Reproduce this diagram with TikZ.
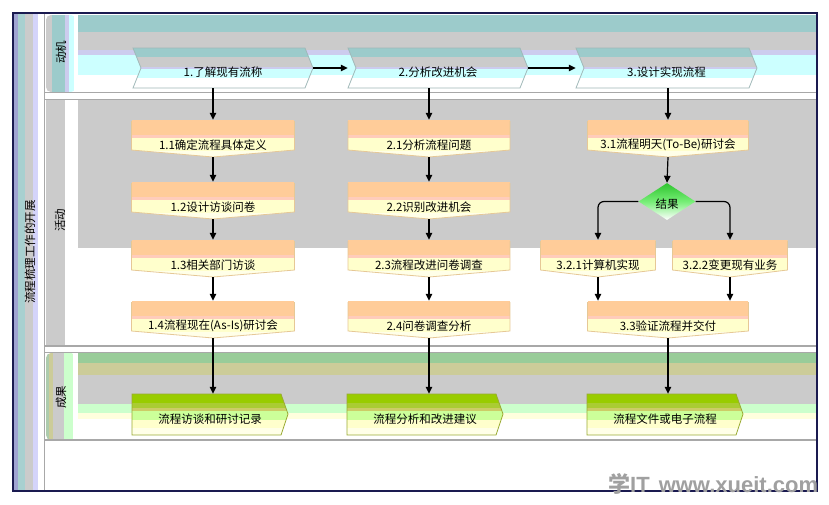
\documentclass[tikz,border=0pt]{standalone}
\usepackage{fontspec}
\setmainfont{Noto Sans CJK SC}
\newfontfamily\wmfont{Liberation Sans}
\usetikzlibrary{arrows.meta,shapes.geometric}
\definecolor{navyc}{HTML}{1A1A50}
\definecolor{laneln}{HTML}{A8A8A8}
\definecolor{tealc}{HTML}{9CCBCB}
\definecolor{grayc}{HTML}{CBCBCB}
\definecolor{lavc}{HTML}{CCCCEE}
\definecolor{cyanc}{HTML}{CCFFFF}
\definecolor{oc1}{HTML}{A0A4D2}
\definecolor{oc2}{HTML}{A8D0D0}
\definecolor{oc4}{HTML}{D4D4FA}
\definecolor{orc}{HTML}{FFCC99}
\definecolor{pkc}{HTML}{FFCCBB}
\definecolor{ylc}{HTML}{FFFFCC}
\definecolor{ylc2}{HTML}{FFFFE8}
\definecolor{tanc}{HTML}{E6C896}
\definecolor{grn1}{HTML}{99CC99}
\definecolor{khk}{HTML}{CCCC99}
\definecolor{lgrn}{HTML}{CCFFCC}
\definecolor{lyel}{HTML}{FFFFDD}
\definecolor{g1}{HTML}{99CC00}
\definecolor{g2}{HTML}{AACC33}
\definecolor{g3}{HTML}{CCCC66}
\definecolor{g4}{HTML}{CCFF99}
\definecolor{golc}{HTML}{99AA33}
\definecolor{chevln}{HTML}{9FB8B8}
\definecolor{dgreen}{HTML}{2EC42E}
\definecolor{mgreen}{HTML}{77EE77}
\definecolor{wmc}{HTML}{A0A0A0}
\tikzset{
  txt/.style={inner sep=0pt, font=\fontsize{11.5}{13}\selectfont, text=black},
  lbl/.style={inner sep=0pt, font=\fontsize{11.5}{13}\selectfont, text=black, rotate=90},
  arr/.style={-{Triangle[length=7pt,width=6.5pt]}, line width=1.2pt, black},
  lline/.style={laneln, line width=1.2pt},
}
% activity box: name, cx, top, half width, text
\newcommand\actbox[5]{%
  \begin{scope}
    \clip (#2-#4,#3) -- (#2+#4,#3) -- (#2+#4,#3+30) -- (#2,#3+37) -- (#2-#4,#3+30) -- cycle;
    \fill[orc] (#2-#4,#3) rectangle (#2+#4,#3+15);
    \fill[pkc] (#2-#4,#3+15) rectangle (#2+#4,#3+18);
    \fill[ylc] (#2-#4,#3+18) rectangle (#2+#4,#3+31);
    \fill[ylc2] (#2-#4,#3+31) rectangle (#2+#4,#3+37);
  \end{scope}
  \draw[tanc, line width=0.8pt] (#2-#4,#3+1) -- (#2-#4,#3+30) -- (#2,#3+37) -- (#2+#4,#3+30) -- (#2+#4,#3+1);
  \node[inner sep=0pt, minimum width=2*#4, minimum height=37] (#1) at (#2,#3+18.5) {};
  \node[txt] (#1t) at (#2,#3+25) {#5};
}
% motive chevron: name, left, right, text
\newcommand\mchev[4]{%
  \begin{scope}
    \clip (#2,48) -- (#3-8,48) -- (#3,68) -- (#3-8,88) -- (#2,88) -- (#2+8,68) -- cycle;
    \fill[tealc] (#2,48) rectangle (#3,57);
    \fill[grayc] (#2,57) rectangle (#3,67);
    \fill[lavc] (#2,67) rectangle (#3,69);
    \fill[cyanc] (#2,69) rectangle (#3,78);
    \fill[white] (#2,78) rectangle (#3,88);
  \end{scope}
  \draw[chevln, line width=0.8pt] (#2,48) -- (#3-8,48) -- (#3,68) -- (#3-8,88) -- (#2,88) -- (#2+8,68) -- cycle;
  \node[inner sep=0pt, minimum width=#3-#2, minimum height=40] (#1) at ({(#2+#3)/2},68) {};
  \node[txt] (#1t) at ({(#2+#3)/2},72) {#4};
}
% result chevron: name, left, right, text
\newcommand\gchev[4]{%
  \begin{scope}
    \clip (#2,394) -- (#3-7,394) -- (#3,414) -- (#3-7,435) -- (#2,435) -- cycle;
    \fill[g1] (#2,394) rectangle (#3,403);
    \fill[g2] (#2,403) rectangle (#3,408);
    \fill[g3] (#2,408) rectangle (#3,411);
    \fill[g4] (#2,411) rectangle (#3,420);
    \fill[ylc] (#2,420) rectangle (#3,428);
    \fill[ylc2] (#2,428) rectangle (#3,435);
  \end{scope}
  \draw[golc, line width=0.8pt] (#2,394) -- (#3-7,394) -- (#3,414) -- (#3-7,435) -- (#2,435) -- cycle;
  \node[inner sep=0pt, minimum width=#3-#2, minimum height=41] (#1) at ({(#2+#3)/2},414.5) {};
  \node[txt] (#1t) at ({(#2+#3)/2},419) {#4};
}
\begin{document}
\begin{tikzpicture}[x=1pt,y=-1pt]
\useasboundingbox (0,0) rectangle (829,504);
\fill[white] (0,0) rectangle (829,504);
% outer left column
\fill[oc1] (13,13) rectangle (18,491);
\fill[oc2] (18,13) rectangle (25,491);
\fill[grayc] (25,13) rectangle (33,491);
\fill[oc4] (33,13) rectangle (38,491);
\draw[laneln, line width=1pt] (44.5,13) -- (44.5,491);
% lane 1 body
\fill[tealc] (78,15) rectangle (816,32);
\fill[grayc] (78,32) rectangle (816,50);
\fill[lavc] (78,50) rectangle (816,55);
\fill[cyanc] (78,55) rectangle (816,75);
% lane 1 label
\begin{scope}
  \clip[rounded corners=5pt] (46,15) rectangle (76,92);
  \fill[grayc] (46,15) rectangle (52,92);
  \fill[tealc] (52,15) rectangle (65,92);
  \fill[lavc] (65,15) rectangle (69,92);
  \fill[cyanc] (69,15) rectangle (74,92);
\end{scope}
\draw[lline] (45,92.5) -- (816,92.5);
\draw[lline, line width=0.8pt] (45,99.5) -- (816,99.5);
% lane 2
\fill[grayc] (78,100) rectangle (816,248);
\fill[grayc] (46,100) rectangle (65,346);
\draw[lline] (45,346) -- (816,346);
\draw[lline, line width=0.8pt] (45,352.5) -- (816,352.5);
% lane 3 body
\fill[grn1] (78,353) rectangle (816,363);
\fill[khk] (78,363) rectangle (816,375);
\fill[grayc] (78,375) rectangle (816,404);
\fill[lgrn] (78,404) rectangle (816,413);
\fill[lyel] (78,413) rectangle (816,419);
% lane 3 label
\begin{scope}
  \clip[rounded corners=5pt] (46,353) rectangle (76,440);
  \fill[grn1!60!grayc] (46,353) rectangle (49,440);
  \fill[khk] (49,353) rectangle (53,440);
  \fill[grayc] (53,353) rectangle (64,440);
  \fill[lgrn] (64,353) rectangle (73,440);
\end{scope}
\draw[lline] (45,440) -- (816,440);
% frame
\draw[navyc, line width=1.2pt] (13,13) rectangle (817,491);
% labels
\node[lbl] (L0) at (30,252) {流程梳理工作的开展};
\node[lbl] (L1) at (61,52) {动机};
\node[lbl] (L2) at (60,220) {活动};
\node[lbl] (L3) at (61,397) {成果};
% motive chevrons
\mchev{m1}{133}{313}{1.了解现有流称}
\mchev{m2}{348}{528}{2.分析改进机会}
\mchev{m3}{576}{757}{3.设计实现流程}
% activity boxes
\actbox{a11}{213}{120}{81.5}{1.1确定流程具体定义}
\actbox{a12}{213}{182}{81.5}{1.2设计访谈问卷}
\actbox{a13}{213}{240}{81.5}{1.3相关部门访谈}
\actbox{a14}{213}{301}{81.5}{1.4流程现在(As-Is)研讨会}
\actbox{a21}{429}{120}{81}{2.1分析流程问题}
\actbox{a22}{429}{182}{81}{2.2识别改进机会}
\actbox{a23}{429}{240}{81}{2.3流程改进问卷调查}
\actbox{a24}{429}{301}{81}{2.4问卷调查分析}
\actbox{a31}{668}{120}{80.5}{3.1流程明天(To-Be)研讨会}
\actbox{a321}{598}{240}{57.5}{3.2.1计算机实现}
\actbox{a322}{730}{240}{57.5}{3.2.2变更现有业务}
\actbox{a33}{668}{301}{80.5}{3.3验证流程并交付}
% decision
\node[diamond, aspect=1.54, minimum width=57, minimum height=37, inner sep=0pt,
  top color=dgreen, bottom color=white, middle color=mgreen, draw=none] (dia) at (667,201.5) {};
\node[txt] (diat) at (667,204) {结果};
% result chevrons
\gchev{r1}{132}{288}{流程访谈和研讨记录}
\gchev{r2}{347}{503}{流程分析和改进建议}
\gchev{r3}{587}{743}{流程文件或电子流程}
% connectors
\draw[arr] (m1.east) -- (m2.west);
\draw[arr] (m2.east) -- (m3.west);
\draw[arr] (m1.south -| a11) -- (a11.north);
\draw[arr] (m2.south -| a21) -- (a21.north);
\draw[arr] (m3.south -| a31) -- (a31.north);
\draw[arr] (a11.south) -- (a12.north);
\draw[arr] (a12.south) -- (a13.north);
\draw[arr] (a13.south) -- (a14.north);
\draw[arr] (a21.south) -- (a22.north);
\draw[arr] (a22.south) -- (a23.north);
\draw[arr] (a23.south) -- (a24.north);
\draw[arr] (a31.south) -- (dia.north);
\draw[arr, rounded corners=6pt] (dia.west) -| (a321.north);
\draw[arr, rounded corners=6pt] (dia.east) -| (a322.north);
\draw[arr] (a321.south) -- (a321.south |- a33.north);
\draw[arr] (a322.south) -- (a322.south |- a33.north);
\draw[arr] (a14.south) -- (a14.south |- r1.north);
\draw[arr] (a24.south) -- (a24.south |- r2.north);
\draw[arr] (a33.south) -- (a33.south |- r3.north);
% watermark
\node[anchor=base west, inner sep=0pt, text=wmc, font=\wmfont\bfseries\fontsize{22}{23}\selectfont] (wm) at (608,492) {{\fontspec{Noto Sans CJK SC}学}IT\hspace{9pt}www.xueit.com};
\end{tikzpicture}
\end{document}
